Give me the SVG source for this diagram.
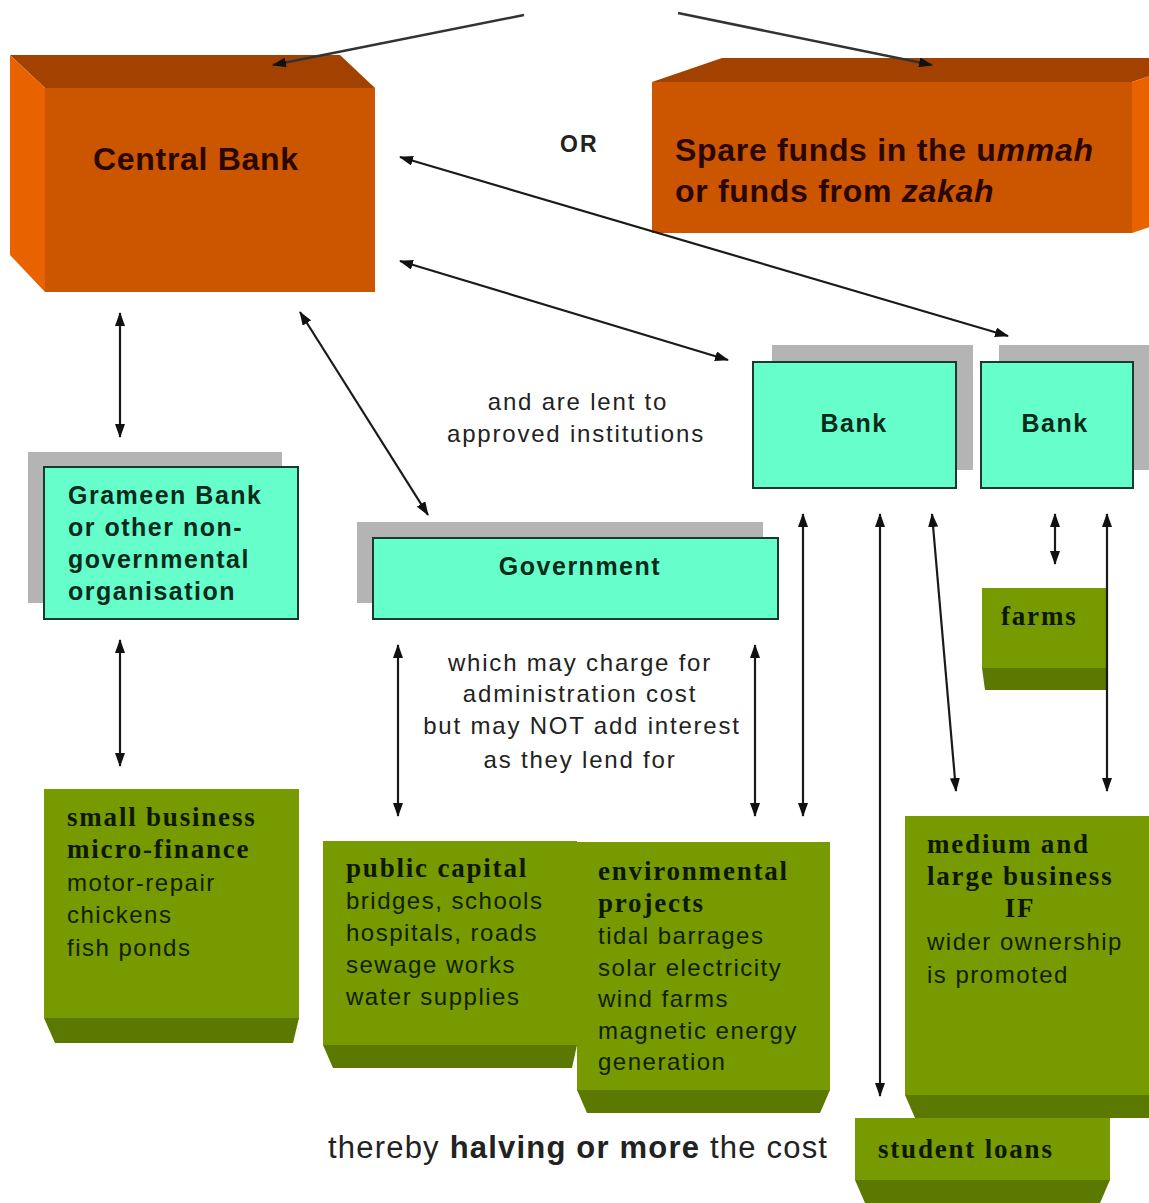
<svg xmlns="http://www.w3.org/2000/svg" width="1149" height="1203" viewBox="0 0 1149 1203">
<defs>
<marker id="ah" viewBox="0 0 14 10" refX="13" refY="5" markerWidth="14" markerHeight="10" markerUnits="userSpaceOnUse" orient="auto-start-reverse">
<path d="M0,0 L14,5 L0,10 z" fill="#111"/>
</marker>
<style>
.front{fill:#cc5500}
.top{fill:#a34200}
.side{fill:#e86200}
.shadow{fill:#b4b4b4}
.cyan{fill:#66ffcc;stroke:#1c3a2c;stroke-width:2}
.gmain{fill:#779a00}
.gbot{fill:#5b7800}
.ctext{font-family:"Liberation Sans",Arial,sans-serif;font-weight:bold;font-size:25px;letter-spacing:1.5px;fill:#0a2a1a}
.otext{font-family:"Liberation Sans",Arial,sans-serif;font-weight:bold;font-size:32px;letter-spacing:0.7px;fill:#2a0800}
.gt{font-family:"Liberation Serif","Times New Roman",serif;font-weight:bold;font-size:27px;letter-spacing:1.8px;fill:#0d1800}
.gn{font-family:"Liberation Sans",Arial,sans-serif;font-size:24px;letter-spacing:1.5px;fill:#102000}
.mid{font-family:"Liberation Sans",Arial,sans-serif;font-size:24px;letter-spacing:1.8px;fill:#222;text-anchor:middle}
.conn{stroke:#1a1a1a;stroke-width:2.2;fill:none;marker-start:url(#ah);marker-end:url(#ah)}
.conn1{stroke:#333;stroke-width:2.5;fill:none;marker-end:url(#ah)}
</style>
</defs>
<rect width="1149" height="1203" fill="#ffffff"/>

<g id="central-bank">
<polygon class="top" points="10,55 340,55 375,88 45,88"/>
<polygon class="side" points="10,55 45,88 45,292 10,255"/>
<rect class="front" x="45" y="88" width="330" height="204"/>
<text class="otext" x="93" y="170">Central Bank</text>
</g>

<g id="or-label">
<text x="560" y="152" font-family="Liberation Sans, Arial, sans-serif" font-weight="bold" font-size="23" letter-spacing="2" fill="#222">OR</text>
</g>

<g id="spare-funds">
<polygon class="top" points="652,82 722,58 1202,58 1132,82"/>
<polygon class="side" points="1132,82 1202,58 1202,209 1132,233"/>
<rect class="front" x="652" y="82" width="480" height="151"/>
<text class="otext" x="675" y="161">Spare funds in the u<tspan font-style="italic">mmah</tspan></text>
<text class="otext" x="675" y="202">or funds from <tspan font-style="italic">zakah</tspan></text>
</g>

<g id="bank-1">
<rect class="shadow" x="772" y="345" width="201" height="125"/>
<rect class="cyan" x="753" y="362" width="203" height="126"/>
<text class="ctext" x="854" y="432" text-anchor="middle">Bank</text>
</g>

<g id="bank-2">
<rect class="shadow" x="999" y="345" width="160" height="125"/>
<rect class="cyan" x="981" y="362" width="152" height="126"/>
<text class="ctext" x="1055" y="432" text-anchor="middle">Bank</text>
</g>

<g id="grameen">
<rect class="shadow" x="28" y="452" width="254" height="151"/>
<rect class="cyan" x="44" y="467" width="254" height="152"/>
<text class="ctext" x="68" y="504" letter-spacing="2">Grameen Bank</text>
<text class="ctext" x="68" y="536" letter-spacing="2">or other non-</text>
<text class="ctext" x="68" y="568" letter-spacing="2">governmental</text>
<text class="ctext" x="68" y="600" letter-spacing="2">organisation</text>
</g>

<g id="government">
<rect class="shadow" x="357" y="522" width="406" height="81"/>
<rect class="cyan" x="373" y="538" width="405" height="81"/>
<text class="ctext" x="580" y="575" text-anchor="middle">Government</text>
</g>

<g id="lent-label">
<text class="mid" x="578" y="410">and are lent to</text>
<text class="mid" x="576" y="442">approved institutions</text>
</g>

<g id="charge-label">
<text class="mid" x="580" y="671">which may charge for</text>
<text class="mid" x="580" y="702">administration cost</text>
<text class="mid" x="582" y="734">but may NOT add interest</text>
<text class="mid" x="580" y="768">as they lend for</text>
</g>

<g id="farms">
<polygon class="gbot" points="982,668 1108,668 1107,690 985,690"/>
<rect class="gmain" x="982" y="588" width="126" height="80"/>
<text class="gt" x="1001" y="625">farms</text>
</g>

<g id="small-business">
<polygon class="gbot" points="44,1018 299,1018 293,1043 55,1043"/>
<rect class="gmain" x="44" y="789" width="255" height="229"/>
<text class="gt" x="67" y="826">small business</text>
<text class="gt" x="67" y="858">micro-finance</text>
<text class="gn" x="67" y="891">motor-repair</text>
<text class="gn" x="67" y="923">chickens</text>
<text class="gn" x="67" y="956">fish ponds</text>
</g>

<g id="public-capital">
<polygon class="gbot" points="323,1045 577,1045 572,1068 333,1068"/>
<rect class="gmain" x="323" y="841" width="254" height="204"/>
<text class="gt" x="346" y="877">public capital</text>
<text class="gn" x="346" y="909">bridges, schools</text>
<text class="gn" x="346" y="941">hospitals, roads</text>
<text class="gn" x="346" y="973">sewage works</text>
<text class="gn" x="346" y="1005">water supplies</text>
</g>

<g id="environmental">
<polygon class="gbot" points="577,1090 830,1090 820,1113 587,1113"/>
<rect class="gmain" x="577" y="842" width="253" height="248"/>
<text class="gt" x="598" y="880">environmental</text>
<text class="gt" x="598" y="912">projects</text>
<text class="gn" x="598" y="944">tidal barrages</text>
<text class="gn" x="598" y="976">solar electricity</text>
<text class="gn" x="598" y="1007">wind farms</text>
<text class="gn" x="598" y="1039">magnetic energy</text>
<text class="gn" x="598" y="1070">generation</text>
</g>

<g id="medium-large">
<polygon class="gbot" points="905,1095 1149,1095 1149,1118 915,1118"/>
<rect class="gmain" x="905" y="816" width="244" height="279"/>
<text class="gt" x="927" y="853">medium and</text>
<text class="gt" x="927" y="885">large business</text>
<text class="gt" x="1020" y="917" text-anchor="middle">IF</text>
<text class="gn" x="927" y="950">wider ownership</text>
<text class="gn" x="927" y="983">is promoted</text>
</g>

<g id="student-loans">
<polygon class="gbot" points="855,1180 1110,1180 1100,1203 865,1203"/>
<rect class="gmain" x="855" y="1118" width="255" height="62"/>
<text class="gt" x="878" y="1158">student loans</text>
</g>

<g id="bottom-label">
<text x="328" y="1158" font-family="Liberation Sans, Arial, sans-serif" font-size="31" letter-spacing="1.2" fill="#222">thereby <tspan font-weight="bold">halving or more</tspan> the cost</text>
</g>

<g id="connectors">
<line class="conn1" x1="524" y1="15" x2="273" y2="65"/>
<line class="conn1" x1="678" y1="13" x2="932" y2="65"/>
<line class="conn" x1="400" y1="157" x2="1008" y2="336"/>
<line class="conn" x1="400" y1="261" x2="728" y2="360"/>
<line class="conn" x1="300" y1="312" x2="428" y2="515"/>
<line class="conn" x1="120" y1="313" x2="120" y2="437"/>
<line class="conn" x1="120" y1="640" x2="120" y2="766"/>
<line class="conn" x1="398" y1="645" x2="398" y2="816"/>
<line class="conn" x1="755" y1="645" x2="755" y2="816"/>
<line class="conn" x1="803" y1="514" x2="803" y2="816"/>
<line class="conn" x1="880" y1="514" x2="880" y2="1096"/>
<line class="conn" x1="932" y1="514" x2="956" y2="791"/>
<line class="conn" x1="1055" y1="514" x2="1055" y2="564"/>
<line class="conn" x1="1107" y1="514" x2="1107" y2="791"/>
</g>
</svg>
